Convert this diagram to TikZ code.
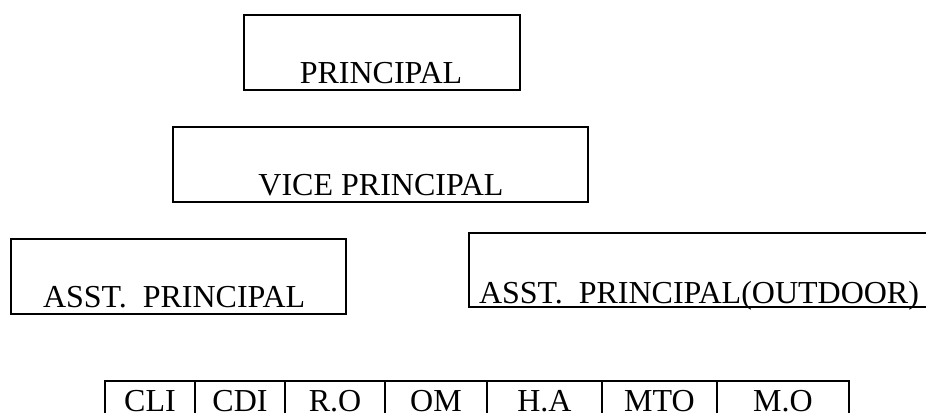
\documentclass[tikz,border=0pt]{standalone}
\usepackage{fontspec}
\setmainfont{Liberation Serif}
\usepackage{tikz}

\begin{document}
\begin{tikzpicture}[x=0.75pt,y=-0.75pt,line width=1.5pt,
        boxtext/.style={inner sep=0pt,font=\fontsize{24}{28}\selectfont}]
        \clip (0,0) rectangle (926,412);

        % principal
        \coordinate (p_nw) at (244,15);
        \coordinate (p_se) at (520,90);
        \draw (p_nw) rectangle (p_se);
        \node[boxtext, anchor=base] (principal) at (381,83) {PRINCIPAL};

        % vice principal
        \coordinate (vp_nw) at (173,127);
        \coordinate (vp_se) at (588,202);
        \draw (vp_nw) rectangle (vp_se);
        \node[boxtext, anchor=base] (vice) at (381,195) {VICE PRINCIPAL};

        % assistant principals
        \coordinate (ap_nw) at (11,239);
        \coordinate (ap_se) at (346,314);
        \draw (ap_nw) rectangle (ap_se);
        \node[boxtext, anchor=base west] (asst) at (42,307) {ASST.\ \ PRINCIPAL};

        \coordinate (apo_nw) at (469,233);
        \coordinate (apo_se) at (950,307);
        \draw (apo_nw) rectangle (apo_se);
        \node[boxtext, anchor=base west] (asstout) at (478,303) {ASST.\ \ PRINCIPAL(OUTDOOR)};

        % staff row
        \foreach \cellname/\xa/\xb [count=\i] in {CLI/105/195, CDI/195/285, R.O/285/385,
                OM/385/487, H.A/487/602, MTO/602/717, M.O/717/849}
        {
            \draw (\xa,381) rectangle (\xb,440);
            \node[boxtext, anchor=base] (cell\i) at ({(\xa+\xb)/2},411) {\cellname};
        }
\end{tikzpicture}
\end{document}
